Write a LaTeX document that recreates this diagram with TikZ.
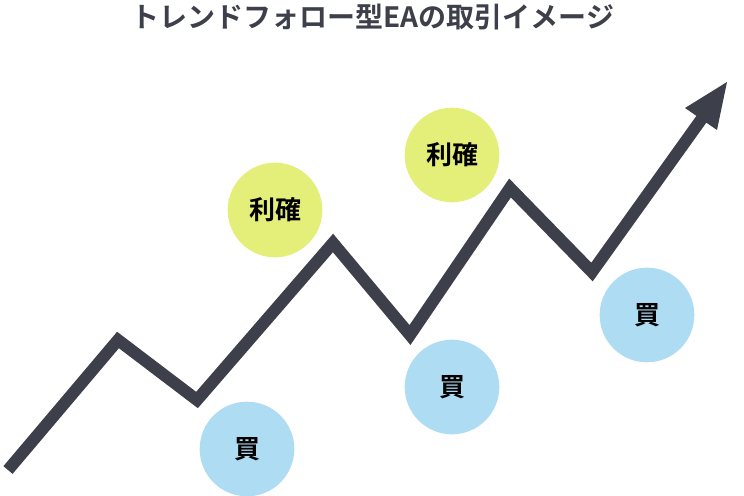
\documentclass[tikz,border=0pt]{standalone}
\usepackage{fontspec}
\newfontfamily\jpb{Noto Sans CJK JP Bold}
\definecolor{ink}{HTML}{3D404A}
\definecolor{takeprofit}{HTML}{E4EF79}
\definecolor{buy}{HTML}{AEDCF2}
\begin{document}
\begin{tikzpicture}[x=0.75pt,y=-0.75pt,
  trend/.style={draw=ink,line width=9pt,miter limit=10,line join=miter},
  head/.style={fill=ink,draw=none},
  tp/.style={circle,fill=takeprofit,minimum size=71pt,inner sep=0pt,font=\jpb\fontsize{19.5}{19.5}\selectfont,text=black},
  by/.style={circle,fill=buy,minimum size=71pt,inner sep=0pt,font=\jpb\fontsize{19.5}{19.5}\selectfont,text=black},
  ttl/.style={font=\jpb\fontsize{21}{21}\selectfont,text=ink}]
\useasboundingbox (0,0) rectangle (744,496);
\node[ttl] (title) at (373,17) {トレンドフォロー型EAの取引イメージ};
\node[tp] (tp1) at (275,210) {利確};
\node[tp] (tp2) at (452,155) {利確};
\node[by] (b1) at (247,449) {買};
\node[by] (b2) at (452,387) {買};
\node[by] (b3) at (647,315) {買};
\coordinate (p0) at (8,470);
\coordinate (p1) at (118,340);
\coordinate (p2) at (197,400);
\coordinate (p3) at (333,243);
\coordinate (p4) at (410,335);
\coordinate (p5) at (510,188);
\coordinate (p6) at (592,272);
\coordinate (p7) at (703,117);
\coordinate (tip) at (727,82);
\coordinate (hl) at (685,108);
\coordinate (hr) at (717,130);
\draw[trend] (p0) -- (p1) -- (p2) -- (p3) -- (p4) -- (p5) -- (p6) -- (p7);
\fill[head] (tip) -- (hl) -- (hr) -- cycle;
\end{tikzpicture}
\end{document}
